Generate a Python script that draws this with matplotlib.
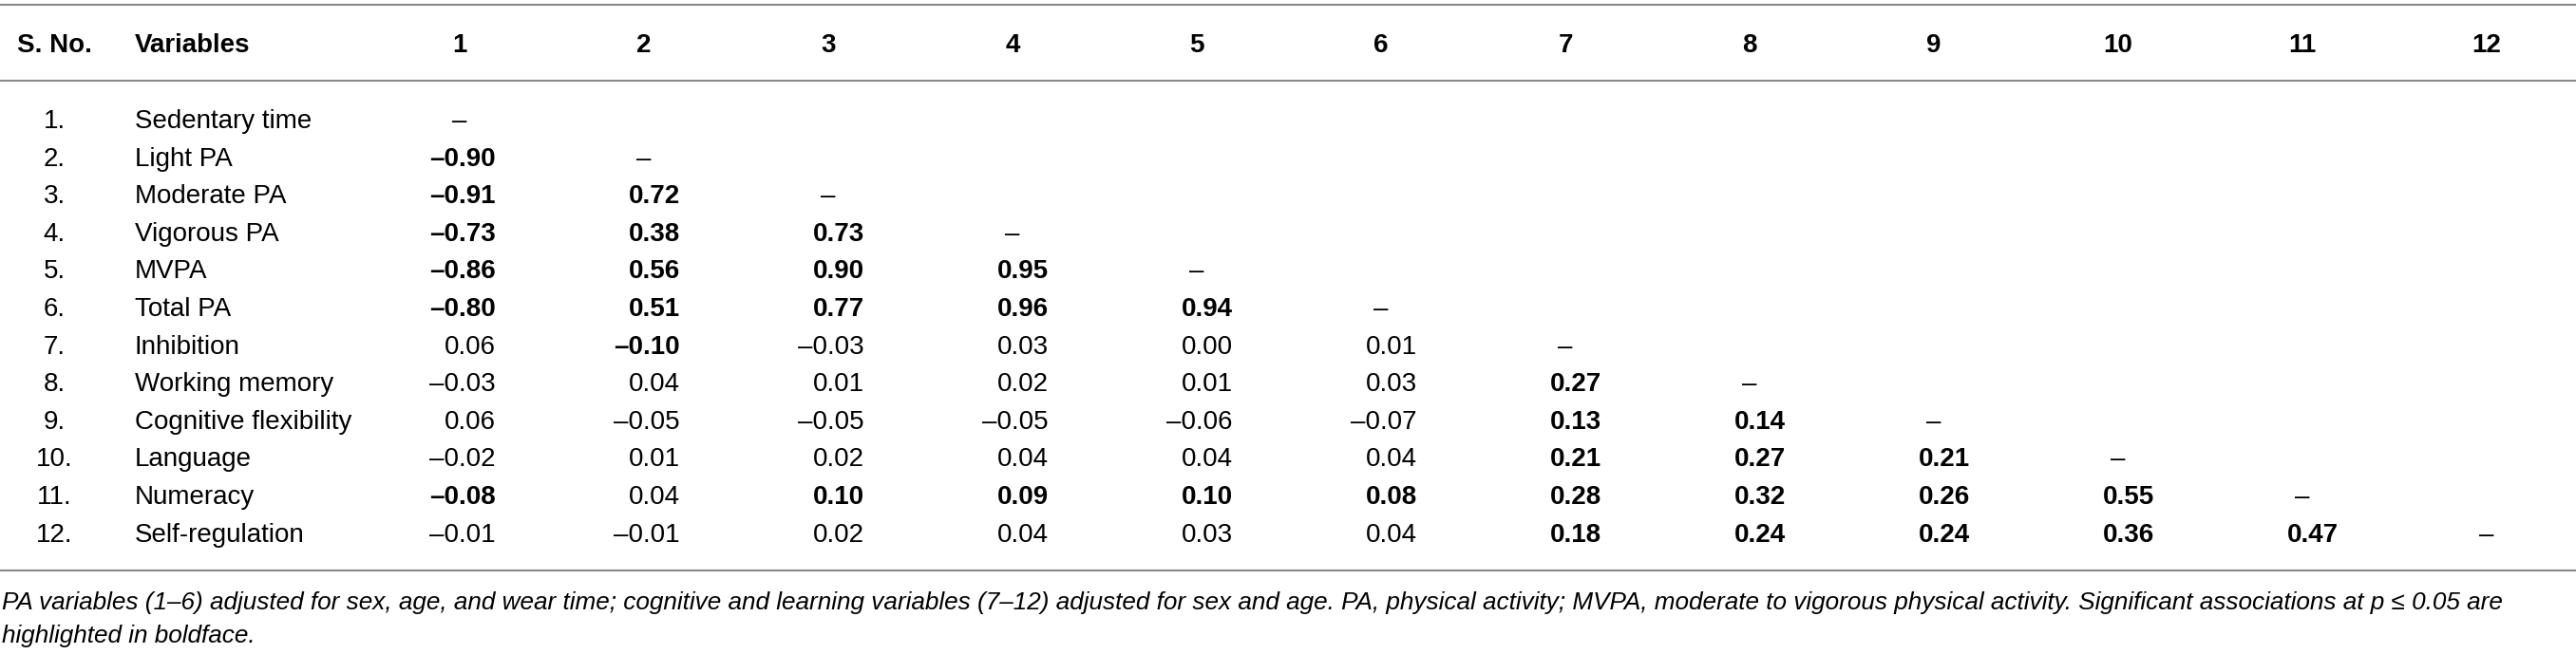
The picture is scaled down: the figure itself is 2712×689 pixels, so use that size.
"""Correlation table (lower triangle) redrawn as a matplotlib figure."""
import matplotlib
matplotlib.use("Agg")
import matplotlib.pyplot as plt

plt.rcParams["font.family"] = ["Liberation Sans", "DejaVu Sans"]

SNO = [f"{i}." for i in range(1, 13)]
VARIABLES = ["Sedentary time", "Light PA", "Moderate PA", "Vigorous PA", "MVPA",
             "Total PA", "Inhibition", "Working memory", "Cognitive flexibility",
             "Language", "Numeracy", "Self-regulation"]
COL_LABELS = [str(i) for i in range(1, 13)]

# row i holds correlations with variables 1..i-1
CORR = [
    [],
    [-0.90],
    [-0.91, 0.72],
    [-0.73, 0.38, 0.73],
    [-0.86, 0.56, 0.90, 0.95],
    [-0.80, 0.51, 0.77, 0.96, 0.94],
    [0.06, -0.10, -0.03, 0.03, 0.00, 0.01],
    [-0.03, 0.04, 0.01, 0.02, 0.01, 0.03, 0.27],
    [0.06, -0.05, -0.05, -0.05, -0.06, -0.07, 0.13, 0.14],
    [-0.02, 0.01, 0.02, 0.04, 0.04, 0.04, 0.21, 0.27, 0.21],
    [-0.08, 0.04, 0.10, 0.09, 0.10, 0.08, 0.28, 0.32, 0.26, 0.55],
    [-0.01, -0.01, 0.02, 0.04, 0.03, 0.04, 0.18, 0.24, 0.24, 0.36, 0.47],
]
# 1 = significant (boldface)
SIG = [
    [],
    [1],
    [1, 1],
    [1, 1, 1],
    [1, 1, 1, 1],
    [1, 1, 1, 1, 1],
    [0, 1, 0, 0, 0, 0],
    [0, 0, 0, 0, 0, 0, 1],
    [0, 0, 0, 0, 0, 0, 1, 1],
    [0, 0, 0, 0, 0, 0, 1, 1, 1],
    [1, 0, 1, 1, 1, 1, 1, 1, 1, 1],
    [0, 0, 0, 0, 0, 0, 1, 1, 1, 1, 1],
]

NOTE1 = ("PA variables (1–6) adjusted for sex, age, and wear time; cognitive and learning "
         "variables (7–12) adjusted for sex and age. PA, physical activity; MVPA, moderate "
         "to vigorous physical activity. Significant associations at p ≤ 0.05 are")
NOTE2 = "highlighted in boldface."

# layout (pixels)
W, H = 2712, 689
FS = 20
LINE_C = "#8a8a8a"
X_SNO, X_VAR = 57, 142
COL0_C, COL0_R, COL_STEP = 484, 522, 194
HEAD_BASE = 55
ROW0_BASE, ROW_STEP = 135, 39.6


def fmt(v):
    return f"{v:.2f}".replace("-", "–")


fig = plt.figure(figsize=(W / 100, H / 100), dpi=100)
ax = fig.add_axes([0, 0, 1, 1])
ax.set_xlim(0, W); ax.set_ylim(H, 0); ax.axis("off")

for y in (4.5, 85, 601):
    ax.axhline(y, color=LINE_C, lw=1.5)

# header
ax.text(X_SNO, HEAD_BASE, "S. No.", ha="center", va="baseline", fontsize=FS, fontweight="bold")
ax.text(X_VAR, HEAD_BASE, "Variables", ha="left", va="baseline", fontsize=FS, fontweight="bold")
for k, lab in enumerate(COL_LABELS):
    ax.text(COL0_C + k * COL_STEP, HEAD_BASE, lab, ha="center", va="baseline",
            fontsize=FS, fontweight="bold")

# body
for i, (sn, var) in enumerate(zip(SNO, VARIABLES)):
    yb = ROW0_BASE + i * ROW_STEP
    ax.text(X_SNO, yb, sn, ha="center", va="baseline", fontsize=FS)
    ax.text(X_VAR, yb, var, ha="left", va="baseline", fontsize=FS)
    for k, (v, s) in enumerate(zip(CORR[i], SIG[i])):
        ax.text(COL0_R + k * COL_STEP, yb, fmt(v), ha="right", va="baseline",
                fontsize=FS, fontweight="bold" if s else "normal")
    ax.text(COL0_C + i * COL_STEP, yb, "–", ha="center", va="baseline", fontsize=FS)

# footnote, fitted to the reference line width
t1 = ax.text(2, 642, NOTE1, ha="left", va="baseline", fontsize=FS, style="italic")
t2 = ax.text(2, 677, NOTE2, ha="left", va="baseline", fontsize=FS, style="italic")
fig.canvas.draw()
w = t1.get_window_extent(fig.canvas.get_renderer()).width
fs_note = FS * 2626 / w
t1.set_fontsize(fs_note); t2.set_fontsize(fs_note)

fig.savefig("out.png", dpi=100)
plt.close(fig)
